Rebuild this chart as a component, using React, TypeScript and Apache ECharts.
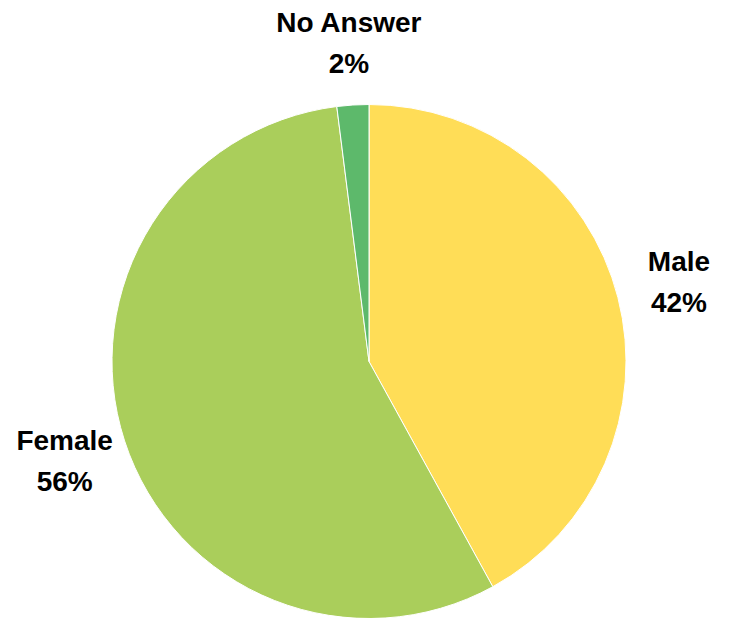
import React, { useEffect, useRef } from "react";
import * as echarts from "echarts";

const categories = ["Male", "Female", "No Answer"];
const values = [42, 56, 2];
const colors = ["#FFDD57", "#AACE5B", "#5DB96B"];

export default function App() {
  const ref = useRef<HTMLDivElement>(null);
  useEffect(() => {
    if (!ref.current) return;
    const chart = echarts.init(ref.current, null, { renderer: "svg" });
    const data = categories.map((name, i) => ({
      name,
      value: values[i],
      itemStyle: { color: colors[i] },
    }));
    chart.setOption({
      animation: false,
      backgroundColor: "#ffffff",
      series: [
        {
          type: "pie",
          center: [369, 361.5],
          radius: [0, 257],
          startAngle: 90,
          clockwise: true,
          data,
          itemStyle: { borderColor: "#ffffff", borderWidth: 1 },
          label: { show: false },
          labelLine: { show: false },
          silent: true,
        },
        {
          type: "pie",
          center: [369, 362],
          radius: [297, 337],
          startAngle: 90,
          clockwise: true,
          silent: true,
          data: categories.map((name, i) => ({
            name,
            value: values[i],
            itemStyle: { color: "rgba(0,0,0,0)" },
          })),
          label: {
            show: true,
            position: "inside",
            formatter: "{b}\n{d}%",
            fontFamily: "Liberation Sans, Arial, sans-serif",
            fontWeight: "bold",
            fontSize: 28,
            lineHeight: 41,
            color: "#000000",
            align: "center",
          },
          labelLine: { show: false },
        },
      ],
    });
    return () => chart.dispose();
  }, []);
  return (
    <div
      ref={ref}
      style={{ position: "absolute", left: 0, top: 0, width: 730, height: 618 }}
    />
  );
}
